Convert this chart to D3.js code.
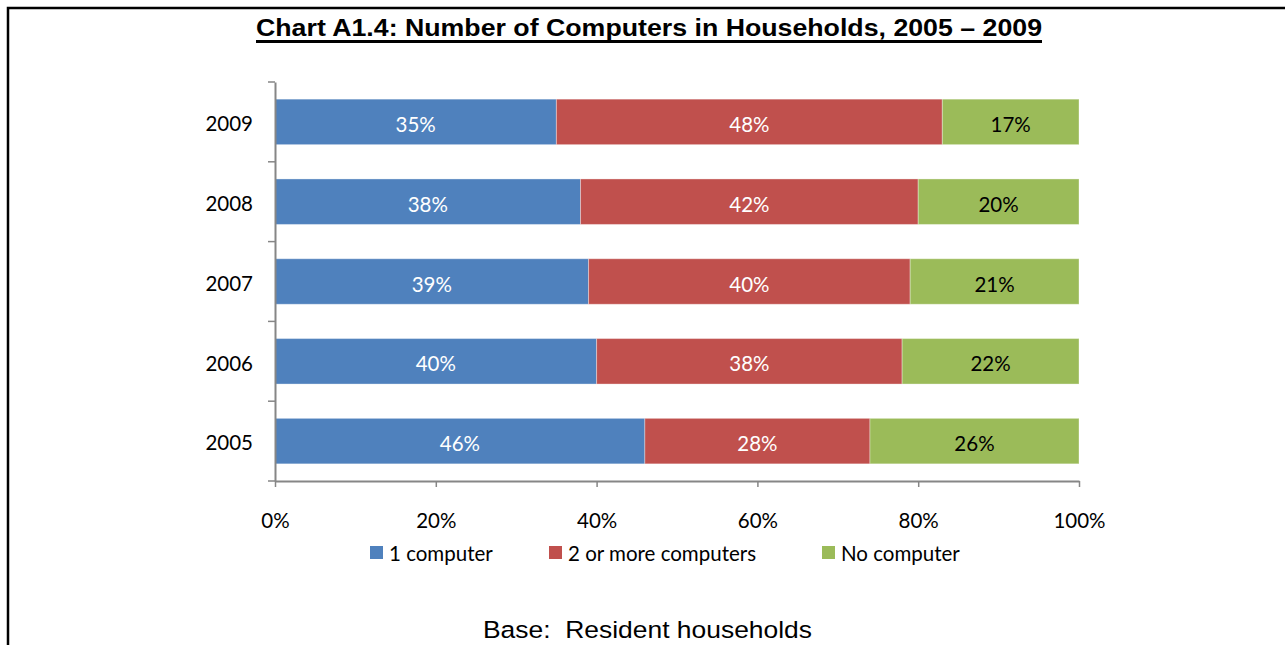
<!DOCTYPE html>
<html><head><meta charset="utf-8">
<script src="https://cdn.jsdelivr.net/npm/d3@7"></script>
<style>body{margin:0;background:#fff}svg{display:block}</style>
</head><body>
<svg id="c" width="1285" height="645"></svg>
<script>
const years = ["2009","2008","2007","2006","2005"];
const seriesNames = ["1 computer","2 or more computers","No computer"];
const oneComputer = [35,38,39,40,46];
const twoOrMore = [48,42,40,38,28];
const noComputer = [17,20,21,22,26];
const xTicks = [0,20,40,60,80,100];
const colors = ["#4F81BD","#C0504D","#9BBB59"];
const labelColors = ["#fff","#fff","#000"];

const svg = d3.select("#c");
const font = "Lato, 'Open Sans', sans-serif";
const arial = "Arial, 'Liberation Sans', sans-serif";

// border (top and left)
svg.append("path").attr("d","M8,645 V8 H1285").attr("fill","none").attr("stroke","#000").attr("stroke-width",2.5);

// title
svg.append("text").attr("x",256).attr("y",36)
  .attr("font-family",arial).attr("font-weight","bold").attr("font-size",23.5)
  .attr("textLength",786).attr("lengthAdjust","spacingAndGlyphs")
  .text("Chart A1.4: Number of Computers in Households, 2005 \u2013 2009");
svg.append("line").attr("x1",256).attr("x2",1042).attr("y1",41.5).attr("y2",41.5).attr("stroke","#000").attr("stroke-width",3);

const x = d3.scaleLinear().domain([0,100]).range([275,1079]);
const y = d3.scaleBand().domain(years).range([82,481]).paddingInner(0.43).paddingOuter(0.215);
const yTick = d3.scaleBand().domain(years).range([82,481]);

const data = years.map((yr,i)=>({year:yr, vals:[oneComputer[i],twoOrMore[i],noComputer[i]]}));

const g = svg.append("g");
data.forEach(d=>{
  let cum=0;
  d.vals.forEach((v,k)=>{
    g.append("rect").attr("x",x(cum)).attr("y",y(d.year)).attr("width",x(cum+v)-x(cum)).attr("height",y.bandwidth())
      .attr("fill",colors[k]).attr("stroke","rgba(255,255,255,0.35)").attr("stroke-width",1);
    g.append("text").attr("x",(x(cum)+x(cum+v))/2).attr("y",y(d.year)+y.bandwidth()/2+10)
      .attr("text-anchor","middle").attr("font-family",font).attr("font-size",20.5).attr("fill",labelColors[k])
      .text(v+"%");
    cum+=v;
  });
});

const axisColor = "#868686";
// y axis
const ya = svg.append("g").attr("transform","translate(275,0)")
  .call(d3.axisLeft(yTick).tickSize(0).tickFormat(d=>d).tickPadding(22));
ya.select(".domain").attr("stroke",axisColor).attr("stroke-width",2);
ya.selectAll("text").attr("font-family",font).attr("font-size",20.5).attr("fill","#000").attr("dy","0.45em");
// y tick marks at band boundaries
const bounds = years.map(yr=>yTick(yr)).concat([481]);
svg.append("g").selectAll("line").data(bounds).join("line")
  .attr("x1",268).attr("x2",275).attr("y1",d=>d).attr("y2",d=>d).attr("stroke",axisColor).attr("stroke-width",1.5);

// x axis
const xa = svg.append("g").attr("transform","translate(0,481)")
  .call(d3.axisBottom(x).tickValues(xTicks).tickSize(6).tickSizeOuter(0).tickFormat(d=>d+"%").tickPadding(26));
xa.select(".domain").attr("stroke",axisColor).attr("stroke-width",2);
xa.selectAll("line").attr("stroke",axisColor).attr("stroke-width",1.5);
xa.selectAll("text").attr("font-family",font).attr("font-size",20.5).attr("fill","#000");

// legend
const legX = [370,549,822];
seriesNames.forEach((n,k)=>{
  svg.append("rect").attr("x",legX[k]).attr("y",546).attr("width",13).attr("height",13).attr("fill",colors[k]);
  svg.append("text").attr("x",legX[k]+19).attr("y",561).attr("font-family",font).attr("font-size",20.5).attr("fill","#000").text(n);
});

svg.append("text").attr("x",483).attr("y",638)
  .attr("font-family",arial).attr("font-size",24.5).attr("xml:space","preserve").style("white-space","pre")
  .attr("textLength",329).attr("lengthAdjust","spacingAndGlyphs")
  .text("Base:  Resident households");
</script>
</body></html>
